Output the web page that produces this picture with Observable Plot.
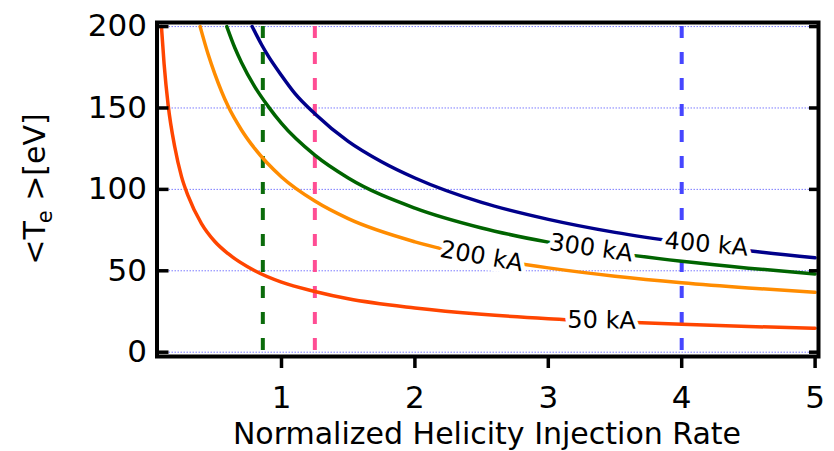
<!DOCTYPE html>
<html>
<head>
<meta charset="utf-8">
<script src="https://cdn.jsdelivr.net/npm/d3@7"></script>
<script src="https://cdn.jsdelivr.net/npm/@observablehq/plot@0.6"></script>
<style>
  html, body { margin: 0; padding: 0; background: white; }
  svg { display: block; }
</style>
</head>
<body>
<div id="chart"></div>
<script>
// Curve series (current in kA)
const seriesNames = ["50 kA", "200 kA", "300 kA", "400 kA"];
const seriesColors = ["#ff4500", "#ff8c00", "#006400", "#00008b"];

const x50  = [0.1, 0.12, 0.15, 0.2, 0.25, 0.3, 0.4, 0.5, 0.6, 0.8, 1, 1.25, 1.5, 2, 2.5, 3, 3.5, 4, 4.5, 5];
const t50  = [200, 177, 152, 126, 108, 96, 79, 68, 60.5, 50, 43, 37.3, 32.8, 27.2, 23.3, 20.6, 18.7, 17.1, 15.8, 14.7];

const x200 = [0.39, 0.45, 0.5, 0.6, 0.7, 0.8, 1, 1.25, 1.5, 2, 2.5, 3, 3.5, 4, 4.5, 5];
const t200 = [200, 183, 171, 151, 136.5, 125, 107.6, 92.8, 82, 67.8, 58.4, 51.8, 46.7, 42.7, 39.5, 36.8];

const x300 = [0.59, 0.65, 0.7, 0.8, 0.9, 1, 1.25, 1.5, 2, 2.5, 3, 3.5, 4, 4.5, 5];
const t300 = [200, 187, 178, 163, 151, 140.5, 121, 107, 88.5, 76.3, 67.6, 61, 55.8, 51.6, 48.1];

const x400 = [0.78, 0.85, 0.9, 1, 1.1, 1.25, 1.5, 1.75, 2, 2.5, 3, 3.5, 4, 4.5, 5];
const t400 = [200, 189, 182, 170, 159, 146.5, 129.5, 117, 107, 92, 81.6, 73.6, 67.4, 62.3, 58];

// Curve labels
const labelText = ["50 kA", "200 kA", "300 kA", "400 kA"];
const labelX = [3.4, 2.5, 3.32, 4.185];
const labelY = [19.5, 58.8, 64, 66.3];
const labelAngle = [1, 10, 8, 5];

// Vertical dashed reference lines
const vlineX = [0.86, 1.25, 4];
const vlineColors = ["#0b6b0b", "#ff4d94", "#4646ff"];

// Axis ticks and titles
const xTicks = [1, 2, 3, 4, 5];
const yTicks = [0, 50, 100, 150, 200];
const xTitle = "Normalized Helicity Injection Rate";

const allX = [x50, x200, x300, x400];
const allT = [t50, t200, t300, t400];
const table = [];
allX.forEach((xs, i) => xs.forEach((x, j) => table.push({series: seriesNames[i], color: seriesColors[i], x, t: allT[i][j]})));
const labels = labelText.map((text, i) => ({text, mask: text.replace(/ /g, "l"), x: labelX[i], y: labelY[i], rotate: labelAngle[i]}));
const vlines = vlineX.map((x, i) => ({x, color: vlineColors[i]}));

const chart = Plot.plot({
  width: 834,
  height: 451,
  marginLeft: 156.5,
  marginRight: 16,
  marginTop: 22,
  marginBottom: 95,
  x: {domain: [0.0667, 5.0255], label: null},
  y: {domain: [-2.64, 202.5], label: null},
  style: {fontFamily: "DejaVu Sans", fontSize: "31px", background: "white", color: "black", overflow: "visible"},
  marks: [
    Plot.ruleY(yTicks, {stroke: "#7b7bff", strokeWidth: 1, strokeDasharray: "1.5,1.5"}),
    Plot.ruleX(vlines, {x: "x", y1: 200, y2: 0, stroke: "color", strokeWidth: 4, strokeDasharray: "12,14"}),
    Plot.line(table, {x: "x", y: "t", z: "series", stroke: "color", strokeWidth: 3.5, curve: "monotone-x"}),
    Plot.text(labels, {x: "x", y: "y", text: "mask", rotate: "rotate", fontSize: 24, fill: "white", stroke: "white", strokeWidth: 10}),
    Plot.text(labels, {x: "x", y: "y", text: "text", rotate: "rotate", fontSize: 24, fill: "black"}),
    Plot.frame({stroke: "black", strokeWidth: 4}),
    Plot.axisY(yTicks, {anchor: "left", tickSize: 0, tickPadding: 10, fontSize: 31, label: null}),
    Plot.axisY(yTicks, {anchor: "left", tickSize: 12, dx: 12, fill: "none", strokeWidth: 3.5, label: null}),
    Plot.axisY(yTicks, {anchor: "right", tickSize: 10, dx: -10, fill: "none", strokeWidth: 3.5, label: null}),
    Plot.axisX(xTicks, {anchor: "bottom", tickSize: 12, tickPadding: 17, strokeWidth: 3.5, fontSize: 31, label: null, tickFormat: d => String(d)})
  ]
});

const svg = d3.select(chart);
svg.append("text")
  .attr("x", 487).attr("y", 444)
  .attr("text-anchor", "middle")
  .attr("font-family", "DejaVu Sans").attr("font-size", 30).attr("fill", "black")
  .text(xTitle);

const yl = svg.append("text")
  .attr("transform", "translate(45,189) rotate(-90)")
  .attr("text-anchor", "middle")
  .attr("font-family", "DejaVu Sans").attr("font-size", 30).attr("fill", "black");
yl.append("tspan").text("<T");
yl.append("tspan").attr("font-size", 21).attr("dy", 7).attr("dx", -2).text("e");
yl.append("tspan").attr("dy", -7).text(" >[eV]");

document.getElementById("chart").appendChild(chart);
</script>
</body>
</html>
